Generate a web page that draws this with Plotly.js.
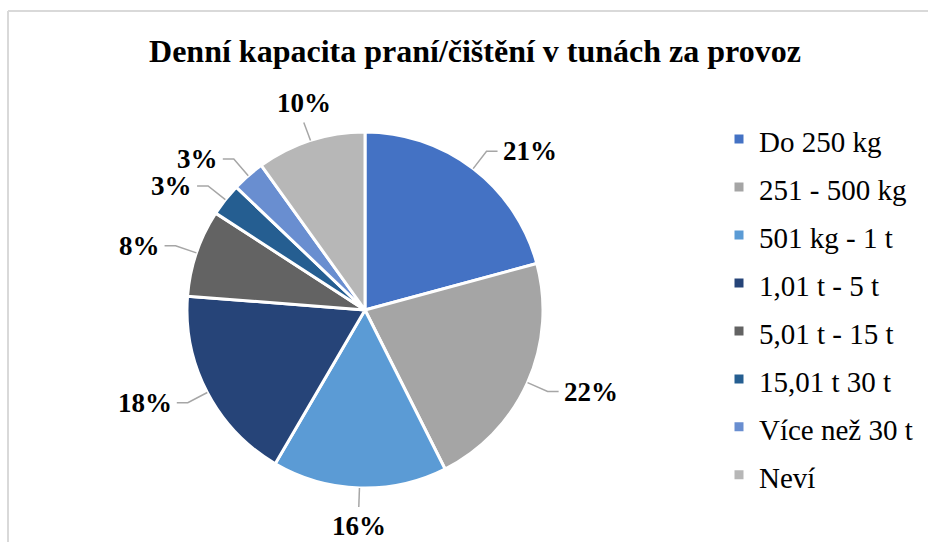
<!DOCTYPE html>
<html>
<head>
<meta charset="utf-8">
<script src="https://cdn.plot.ly/plotly-3.0.1.min.js"></script>
<style>
  html, body { margin: 0; padding: 0; background: #ffffff; }
  #chart { width: 928px; height: 542px; }
</style>
</head>
<body>
<div id="chart"></div>
<script>
// ---- data ----
const categories = ['Do 250 kg', '251 - 500 kg', '501 kg - 1 t', '1,01 t - 5 t', '5,01 t - 15 t', '15,01 t 30 t', 'Více než 30 t', 'Neví'];
const values = [21, 22, 16, 18, 8, 3, 3, 10];
const chartTitle = 'Denní kapacita praní/čištění v tunách za provoz';

// ---- styles ----
const colors = ['#4472C4', '#A5A5A5', '#5B9BD5', '#264478', '#636363', '#255E91', '#698ED0', '#B7B7B7'];
const W = 928, H = 542;
const CX = 365, CY = 310, R = 178;
const serif = 'Liberation Serif';
const leaderColor = '#A6A6A6';

const px = x => x / W;
const py = y => 1 - y / H;

const total = values.reduce((a, b) => a + b, 0);
const annotations = [];
const shapes = [];
let cum = 0;
values.forEach((v, i) => {
  const mid = (cum + v / 2) / total * 2 * Math.PI;
  cum += v;
  const dx = Math.sin(mid), dy = -Math.cos(mid);
  const E = [CX + R * dx, CY + R * dy];
  const P = [CX + (R + 22) * dx, CY + (R + 22) * dy];
  const txt = Math.round(v / total * 100) + '%';
  let path;
  if (Math.abs(dx) < 0.35) {
    annotations.push({
      xref: 'paper', yref: 'paper', x: px(P[0]), y: py(P[1] + (dy > 0 ? -1 : 0)),
      xanchor: 'center', yanchor: dy > 0 ? 'top' : 'bottom',
      text: '<b>' + txt + '</b>', showarrow: false,
      font: { family: serif, size: 27, color: '#000000' }
    });
    path = `M${px(E[0])},${py(E[1])} L${px(P[0])},${py(P[1] + (dy > 0 ? -3 : 3))}`;
  } else {
    const s = dx > 0 ? 1 : -1;
    annotations.push({
      xref: 'paper', yref: 'paper', x: px(P[0] + s * 14), y: py(P[1]),
      xanchor: s > 0 ? 'left' : 'right', yanchor: 'middle',
      text: '<b>' + txt + '</b>', showarrow: false,
      font: { family: serif, size: 27, color: '#000000' }
    });
    path = `M${px(E[0])},${py(E[1])} L${px(P[0])},${py(P[1])} L${px(P[0] + s * 11)},${py(P[1])}`;
  }
  shapes.push({ type: 'path', xref: 'paper', yref: 'paper', path: path,
    line: { color: leaderColor, width: 1.5 } });
});

// chart frame (light grey, top and left edges visible)
shapes.push({ type: 'line', xref: 'paper', yref: 'paper', x0: px(8), y0: py(11), x1: 1, y1: py(11), line: { color: '#D9D9D9', width: 2 } });
shapes.push({ type: 'line', xref: 'paper', yref: 'paper', x0: px(8), y0: py(11), x1: px(8), y1: 0, line: { color: '#D9D9D9', width: 2 } });

// legend: row height follows the legend font size; the visible text is set to 29px
const legendLabels = categories.map(c => '<span style="font-size:29px">' + c + '</span>');

const trace = {
  type: 'pie',
  labels: legendLabels,
  values: values,
  sort: false,
  direction: 'clockwise',
  rotation: 0,
  textinfo: 'none',
  hoverinfo: 'skip',
  marker: { colors: colors, line: { color: '#ffffff', width: 3 } },
  domain: { x: [px(CX - R), px(CX + R)], y: [py(CY + R), py(CY - R)] }
};

const layout = {
  width: W, height: H,
  margin: { l: 0, r: 0, t: 0, b: 0 },
  paper_bgcolor: '#ffffff',
  showlegend: true,
  title: {
    text: '<b>' + chartTitle + '</b>',
    x: 475 / W, xanchor: 'center', xref: 'container',
    y: 1 - 51 / H, yanchor: 'middle', yref: 'container',
    font: { family: serif, size: 32, color: '#000000' }
  },
  legend: {
    x: px(719), xanchor: 'left',
    y: py(110), yanchor: 'top',
    font: { family: serif, size: 34.6, color: '#000000' },
    itemwidth: 30,
    bgcolor: 'rgba(0,0,0,0)'
  },
  annotations: annotations,
  shapes: shapes
};

Plotly.newPlot('chart', [trace], layout, { displayModeBar: false, staticPlot: true });
</script>
</body>
</html>
